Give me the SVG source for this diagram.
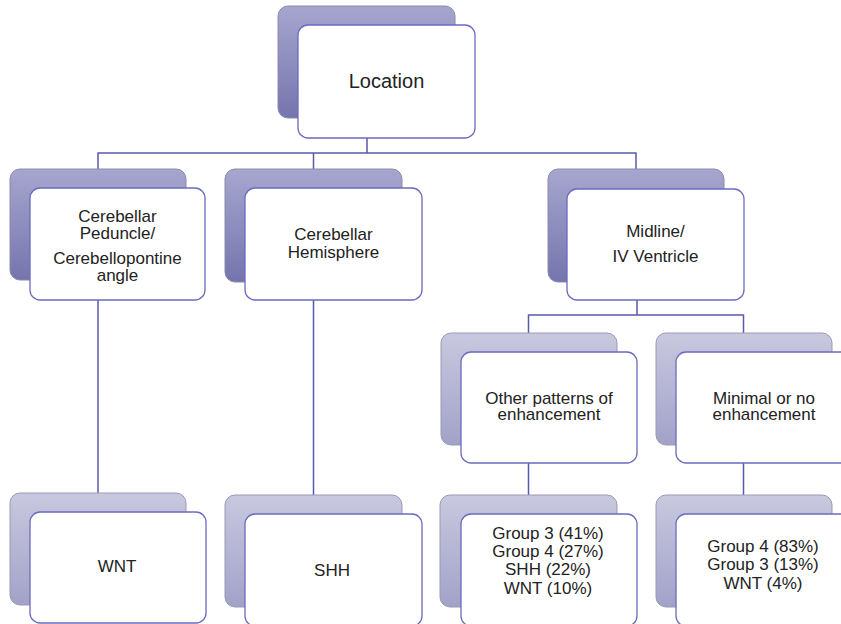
<svg xmlns="http://www.w3.org/2000/svg" width="841" height="624" viewBox="0 0 841 624">
<defs>
<linearGradient id="gDark" x1="0" y1="0" x2="0" y2="1">
<stop offset="0" stop-color="#a6a6cf"/>
<stop offset="1" stop-color="#7575ae"/>
</linearGradient>
<linearGradient id="gLight" x1="0" y1="0" x2="0" y2="1">
<stop offset="0" stop-color="#c8c8df"/>
<stop offset="1" stop-color="#a2a2c9"/>
</linearGradient>
</defs>
<style>
.bd{fill:url(#gDark);stroke:#8a8aa8;stroke-width:1}
.bl{fill:url(#gLight);stroke:#9a9ab4;stroke-width:1}
.f{fill:#ffffff;stroke:#6b6bc0;stroke-width:1.3}
.c{fill:none;stroke:#5a5aaa;stroke-width:1.5}
text{font-family:"Liberation Sans",Arial,sans-serif;font-size:17px;fill:#222222;text-anchor:middle}
.big{font-size:20px}
</style>
<rect width="841" height="624" fill="#ffffff"/>
<g id="connectors">
<path class="c" d="M367,138 V153 M98,169 V153 H636 V169 M313.5,153 V169"/>
<path class="c" d="M98,300 V493 M313.5,300 V495"/>
<path class="c" d="M637,300 V315 M528.5,333 V315 H743.5 V333"/>
<path class="c" d="M528.5,463 V495 M743.5,463 V495"/>
</g>
<g id="location">
<rect class="bd" x="278" y="6" width="177" height="112" rx="10"/>
<rect class="f" x="298" y="25" width="177" height="113" rx="10"/>
<text class="big" x="386.5" y="88">Location</text>
</g>
<g id="peduncle">
<rect class="bd" x="10" y="169" width="176" height="111" rx="10"/>
<rect class="f" x="30" y="188" width="175" height="112" rx="10"/>
<text x="117.5" y="222">Cerebellar</text>
<text x="117.5" y="239">Peduncle/</text>
<text x="117.5" y="264">Cerebellopontine</text>
<text x="117.5" y="281">angle</text>
</g>
<g id="hemisphere">
<rect class="bd" x="225" y="169" width="177" height="113" rx="10"/>
<rect class="f" x="245" y="188" width="177" height="112" rx="10"/>
<text x="333.5" y="240">Cerebellar</text>
<text x="333.5" y="258">Hemisphere</text>
</g>
<g id="midline">
<rect class="bd" x="548" y="169" width="176" height="113" rx="10"/>
<rect class="f" x="567" y="189" width="177" height="111" rx="10"/>
<text x="655.5" y="237">Midline/</text>
<text x="655.5" y="262">IV Ventricle</text>
</g>
<g id="other-patterns">
<rect class="bl" x="441" y="333" width="176" height="112" rx="10"/>
<rect class="f" x="461" y="352" width="176" height="111" rx="10"/>
<text x="549" y="404">Other patterns of</text>
<text x="549" y="420">enhancement</text>
</g>
<g id="minimal">
<rect class="bl" x="656" y="333" width="176" height="112" rx="10"/>
<rect class="f" x="676" y="352" width="176" height="111" rx="10"/>
<text x="764" y="404">Minimal or no</text>
<text x="764" y="420">enhancement</text>
</g>
<g id="wnt">
<rect class="bl" x="10" y="493" width="176" height="112" rx="10"/>
<rect class="f" x="30" y="512" width="176" height="111" rx="10"/>
<text x="117" y="572">WNT</text>
</g>
<g id="shh">
<rect class="bl" x="225" y="495" width="177" height="112" rx="10"/>
<rect class="f" x="245" y="514" width="177" height="112" rx="10"/>
<text x="332" y="576">SHH</text>
</g>
<g id="groups-other">
<rect class="bl" x="440" y="495" width="177" height="112" rx="10"/>
<rect class="f" x="461" y="514" width="176" height="112" rx="10"/>
<text x="548" y="539">Group 3 (41%)</text>
<text x="548" y="557">Group 4 (27%)</text>
<text x="548" y="575">SHH (22%)</text>
<text x="548" y="594">WNT (10%)</text>
</g>
<g id="groups-minimal">
<rect class="bl" x="656" y="495" width="176" height="112" rx="10"/>
<rect class="f" x="676" y="514" width="176" height="112" rx="10"/>
<text x="763" y="552">Group 4 (83%)</text>
<text x="763" y="570">Group 3 (13%)</text>
<text x="763" y="589">WNT (4%)</text>
</g>
</svg>
